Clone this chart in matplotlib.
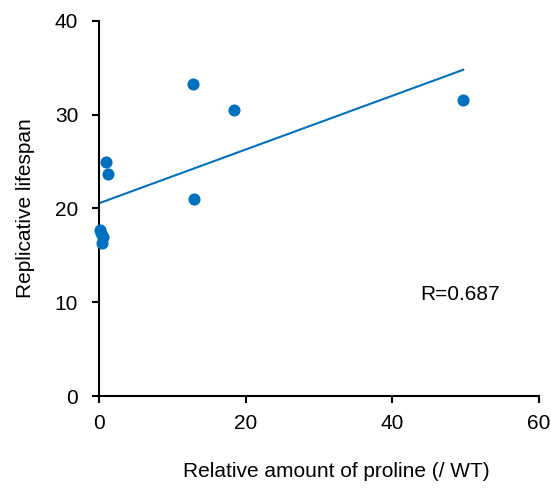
import numpy as np
import matplotlib.pyplot as plt

plt.rcParams["font.family"] = ["Liberation Sans", "DejaVu Sans"]

# Relative proline amount (/ WT) vs replicative lifespan
proline = [0.1, 0.3, 0.5, 0.35, 0.91, 1.23, 12.8, 13.0, 18.4, 49.7]
lifespan = [17.7, 17.4, 17.0, 16.3, 24.9, 23.7, 33.3, 21.0, 30.5, 31.5]
x_ticks = [0, 20, 40, 60]
y_ticks = [0, 10, 20, 30, 40]

blue = "#0070C0"

fig = plt.figure(figsize=(5.51, 4.88), dpi=100)
ax = fig.add_axes([0.1797, 0.1885, 0.798, 0.769])

ax.scatter(proline, lifespan, s=76, color=blue, zorder=3, linewidths=0, clip_on=False)

# linear trend line
x = np.array(proline)
y = np.array(lifespan)
slope, intercept = np.polyfit(x, y, 1)
r = np.corrcoef(x, y)[0, 1]
xs = np.array([0, x.max()])
ax.plot(xs, intercept + slope * xs, color=blue, linewidth=1.5, zorder=2)

ax.text(43.8, 10.8, f"R={r:.3f}", fontsize=15, va="center", ha="left")

ax.set_xlim(0, 60)
ax.set_ylim(0, 40)
ax.set_xticks(x_ticks)
ax.set_yticks(y_ticks)
ax.tick_params(axis="both", labelsize=15, width=1.5, length=5, direction="out")
ax.tick_params(axis="x", pad=8)
ax.tick_params(axis="y", pad=10)

for side in ["top", "right"]:
    ax.spines[side].set_visible(False)
for side in ["left", "bottom"]:
    ax.spines[side].set_linewidth(1.5)

ax.set_xlabel("Relative amount of proline (/ WT)", fontsize=15, va="top")
ax.xaxis.set_label_coords(0.54, -0.176)
ax.set_ylabel("Replicative lifespan", fontsize=15, labelpad=14)

fig.savefig("out.png", dpi=100)
